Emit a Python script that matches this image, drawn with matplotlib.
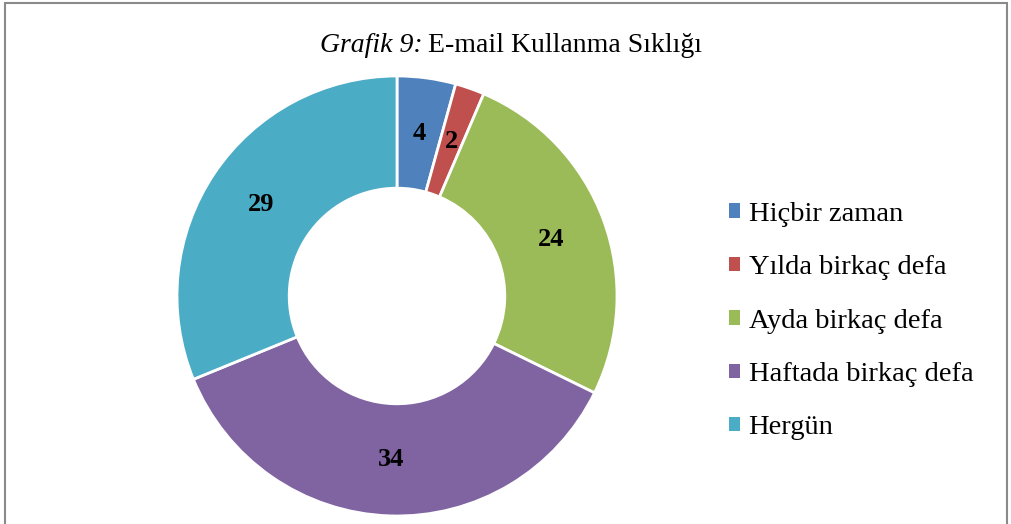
import matplotlib.pyplot as plt
from matplotlib.patches import Patch, Rectangle

categories = ['Hiçbir zaman', 'Yılda birkaç defa', 'Ayda birkaç defa',
              'Haftada birkaç defa', 'Hergün']
values = [4, 2, 24, 34, 29]
colors = ['#4F81BD', '#C0504D', '#9BBB59', '#8064A2', '#4BACC6']

plt.rcParams['font.family'] = ['Liberation Serif', 'DejaVu Serif']

fig = plt.figure(figsize=(10.12, 5.24), dpi=100)
ax = fig.add_axes([0.1749, 0.0153, 0.4348, 0.8397])

total = sum(values)
wedges, _, autotexts = ax.pie(
    values, colors=colors, startangle=90, counterclock=False, radius=1.0,
    wedgeprops=dict(width=0.51, edgecolor='white', linewidth=2),
    autopct=lambda p: f'{round(p * total / 100):d}', pctdistance=0.745,
    textprops=dict(fontsize=19, fontweight='bold', color='black'))
ax.set_xlim(-1, 1)
ax.set_ylim(-1, 1)
ax.set_aspect('equal')
ax.axis('off')

fig.text(423 / 1012, 1 - 45 / 524, 'Grafik 9:', ha='right', va='center',
         fontsize=20, style='italic')
fig.text(428 / 1012, 1 - 45 / 524, 'E-mail Kullanma Sıklığı', ha='left',
         va='center', fontsize=20)

handles = [Patch(facecolor=c, edgecolor='none') for c in colors]
fig.legend(handles, categories, loc='center left',
           bbox_to_anchor=(703 / 1012, 1 - 321 / 524), frameon=False,
           fontsize=20.5, handlelength=0.4, handleheight=0.4,
           handletextpad=0.3, labelspacing=1.0)

fig.patches.append(Rectangle((5 / 1012, -0.02), 1002 / 1012, 1.02 - 3 / 524,
                             transform=fig.transFigure, fill=False,
                             edgecolor='#8a8a8a', linewidth=1.5))

plt.savefig('out.png', dpi=100)
